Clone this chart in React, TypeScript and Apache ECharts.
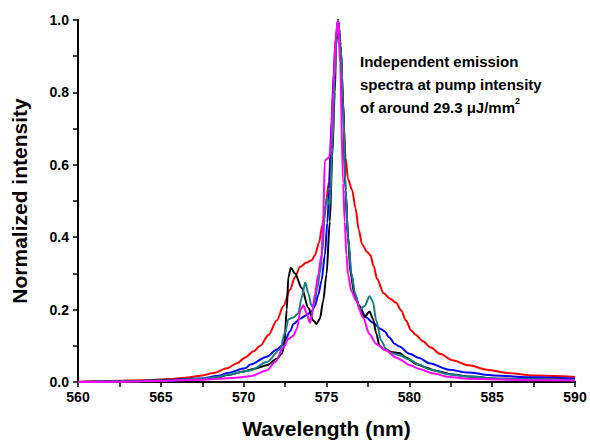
import React, { useEffect, useRef } from "react";
import * as echarts from "echarts";

// Wavelength (nm), normalized intensity pairs
const redSpectrum: [number, number][] = [
  [560, 0.001], [562, 0.003], [564, 0.005], [565.5, 0.008], [566.5, 0.012], [567.4, 0.017],
  [568.2, 0.025], [569, 0.038], [569.6, 0.052], [570.1, 0.068], [570.6, 0.085], [571, 0.1],
  [571.5, 0.13], [572, 0.17], [572.4, 0.21], [572.8, 0.255], [573.1, 0.29], [573.4, 0.318],
  [573.8, 0.33], [574.1, 0.336], [574.3, 0.35], [574.55, 0.385], [574.75, 0.434], [574.95, 0.489],
  [575.15, 0.553], [575.25, 0.64], [575.4, 0.8], [575.55, 0.95], [575.7, 1.0], [575.85, 0.9],
  [576.0, 0.75], [576.15, 0.62], [576.3, 0.56], [576.55, 0.53], [576.75, 0.48], [576.95, 0.42],
  [577.15, 0.38], [577.45, 0.36], [577.65, 0.35], [577.85, 0.32], [578.05, 0.285], [578.45, 0.245],
  [578.85, 0.23], [579.2, 0.219], [579.5, 0.198], [579.8, 0.17], [580.1, 0.143], [580.4, 0.13],
  [580.8, 0.113], [581.3, 0.095], [581.85, 0.078], [582.6, 0.06], [583.6, 0.046], [584.7, 0.034],
  [585.9, 0.025], [587.5, 0.018], [590, 0.014],
];

const blackSpectrum: [number, number][] = [
  [560, 0.0], [563, 0.002], [565, 0.004], [567.4, 0.008], [568.5, 0.013], [569, 0.019],
  [570.1, 0.03], [570.6, 0.036], [571.4, 0.046], [572, 0.064], [572.3, 0.078], [572.45, 0.1],
  [572.6, 0.2], [572.7, 0.29], [572.85, 0.315], [573.1, 0.3], [573.5, 0.26], [573.9, 0.205],
  [574.2, 0.17], [574.4, 0.16], [574.6, 0.175], [574.8, 0.224], [575.0, 0.297], [575.2, 0.443],
  [575.35, 0.625], [575.5, 0.8], [575.58, 0.93], [575.7, 1.0], [575.85, 0.93], [576.0, 0.78],
  [576.15, 0.53], [576.3, 0.4], [576.45, 0.3], [576.7, 0.24], [577.0, 0.21], [577.3, 0.18],
  [577.6, 0.195], [577.8, 0.175], [578.0, 0.135], [578.2, 0.1], [578.5, 0.09], [578.9, 0.083],
  [579.4, 0.08], [579.8, 0.068], [580.4, 0.05], [581.0, 0.04], [581.5, 0.032], [582.6, 0.021],
  [583.6, 0.015], [585.5, 0.009], [590, 0.005],
];

const blueSpectrum: [number, number][] = [
  [560, 0.0], [563, 0.002], [565, 0.005], [567.4, 0.01], [568.5, 0.017], [569, 0.025],
  [570.1, 0.038], [570.4, 0.048], [571.4, 0.07], [572, 0.09], [572.3, 0.1], [572.5, 0.115],
  [572.8, 0.14], [573.0, 0.16], [573.4, 0.175], [573.8, 0.185], [574.1, 0.195], [574.3, 0.21],
  [574.5, 0.24], [574.7, 0.28], [574.9, 0.35], [575.05, 0.44], [575.17, 0.534], [575.3, 0.72],
  [575.45, 0.86], [575.58, 0.95], [575.7, 1.0], [575.85, 0.93], [576.0, 0.78], [576.15, 0.53],
  [576.3, 0.4], [576.5, 0.3], [576.72, 0.242], [577.0, 0.205], [577.4, 0.178], [577.8, 0.164],
  [578.3, 0.146], [578.5, 0.14], [578.8, 0.123], [579.1, 0.106], [579.4, 0.098], [580.0, 0.078],
  [580.6, 0.066], [581.2, 0.052], [582.4, 0.034], [583.5, 0.026], [585.1, 0.018], [587.5, 0.013],
  [590, 0.009],
];

const tealSpectrum: [number, number][] = [
  [560, 0.0], [563, 0.002], [565, 0.004], [567.4, 0.009], [568.5, 0.014], [569, 0.02],
  [570.4, 0.032], [571.4, 0.055], [572.2, 0.09], [572.5, 0.137], [572.7, 0.173], [573.0, 0.178],
  [573.3, 0.19], [573.5, 0.233], [573.72, 0.275], [573.9, 0.245], [574.1, 0.21], [574.25, 0.215],
  [574.45, 0.26], [574.6, 0.3], [574.75, 0.36], [574.88, 0.45], [575.0, 0.51], [575.1, 0.5],
  [575.2, 0.487], [575.35, 0.65], [575.5, 0.84], [575.6, 0.95], [575.7, 1.0], [575.85, 0.93],
  [576.0, 0.78], [576.15, 0.53], [576.3, 0.4], [576.5, 0.3], [576.72, 0.245], [577.0, 0.2],
  [577.3, 0.21], [577.6, 0.237], [577.8, 0.222], [578.0, 0.17], [578.3, 0.114], [578.6, 0.091],
  [578.9, 0.08], [579.4, 0.074], [580.0, 0.062], [580.6, 0.048], [581.2, 0.035], [582.4, 0.021],
  [583.5, 0.015], [585.5, 0.009], [590, 0.005],
];

const magentaSpectrum: [number, number][] = [
  [560, 0.0], [563, 0.001], [565, 0.003], [567.4, 0.006], [568.5, 0.009], [569.5, 0.012],
  [570.4, 0.016], [571.4, 0.032], [571.9, 0.055], [572.4, 0.096], [572.7, 0.119], [573.0, 0.128],
  [573.2, 0.146], [573.45, 0.2], [573.6, 0.212], [573.8, 0.19], [574.0, 0.164], [574.1, 0.18],
  [574.3, 0.242], [574.5, 0.297], [574.7, 0.351], [574.8, 0.45], [574.9, 0.612], [575.17, 0.621],
  [575.27, 0.66], [575.4, 0.8], [575.55, 0.95], [575.7, 1.0], [575.82, 0.88], [576.0, 0.55],
  [576.1, 0.443], [576.2, 0.351], [576.3, 0.297], [576.5, 0.251], [576.8, 0.224], [577.2, 0.178],
  [577.6, 0.132], [578.0, 0.105], [578.6, 0.087], [579.2, 0.068], [579.4, 0.063], [580.0, 0.047],
  [580.6, 0.036], [581.4, 0.024], [582.4, 0.014], [583.5, 0.009], [587.5, 0.005], [590, 0.004],
];

const xRange = [560, 590];
const xInterval = 5;
const yRange = [0, 1.0];
const yInterval = 0.2;

const FONT = '"Liberation Sans", Arial, sans-serif';

export default function App() {
  const ref = useRef<HTMLDivElement>(null);
  useEffect(() => {
    const chart = echarts.init(ref.current!, null, { renderer: "svg" });
    const mk = (data: [number, number][], color: string) => ({
      type: "line",
      data,
      showSymbol: false,
      smooth: 0.3,
      smoothMonotone: "x",
      lineStyle: { color, width: 2 },
      itemStyle: { color },
      emphasis: { disabled: true },
    });
    chart.setOption({
      animation: false,
      backgroundColor: "#ffffff",
      grid: { left: 78, right: 15, top: 20, bottom: 59, containLabel: false },
      xAxis: {
        type: "value",
        min: xRange[0],
        max: xRange[1],
        interval: xInterval,
        name: "Wavelength (nm)",
        nameLocation: "middle",
        nameGap: 36,
        nameTextStyle: { fontFamily: FONT, fontWeight: "bold", fontSize: 21, color: "#000" },
        axisLine: { show: true, onZero: false, lineStyle: { color: "#000", width: 2 } },
        axisTick: { show: true, inside: false, length: 5, lineStyle: { color: "#000", width: 1.5 } },
        minorTick: { show: true, splitNumber: 2, length: 5, lineStyle: { color: "#000", width: 1.5 } },
        axisLabel: { fontFamily: FONT, fontWeight: "bold", fontSize: 14, color: "#000", margin: 8 },
        splitLine: { show: false },
      },
      yAxis: {
        type: "value",
        min: yRange[0],
        max: yRange[1],
        interval: yInterval,
        name: "Normalized intensity",
        nameLocation: "middle",
        nameGap: 48,
        nameTextStyle: { fontFamily: FONT, fontWeight: "bold", fontSize: 21, color: "#000" },
        axisLine: { show: true, onZero: false, lineStyle: { color: "#000", width: 2 } },
        axisTick: { show: true, inside: false, length: 5, lineStyle: { color: "#000", width: 1.5 } },
        minorTick: { show: true, splitNumber: 2, length: 5, lineStyle: { color: "#000", width: 1.5 } },
        axisLabel: {
          fontFamily: FONT, fontWeight: "bold", fontSize: 14, color: "#000", margin: 9,
          formatter: (v: number) => v.toFixed(1),
        },
        splitLine: { show: false },
      },
      graphic: [
        {
          type: "text",
          left: 360,
          top: 50,
          style: {
            text: "Independent emission\nspectra at pump intensity\nof around 29.3 μJ/mm{sup|2}",
            font: `bold 15px ${FONT}`,
            fill: "#000",
            lineHeight: 23,
            rich: {
              sup: { fontSize: 9, fontWeight: "bold", fontFamily: FONT, verticalAlign: "top", fill: "#000", lineHeight: 23 },
            },
          },
        },
      ],
      series: [
        mk(redSpectrum, "#ff0000"),
        mk(blueSpectrum, "#0000ff"),
        mk(blackSpectrum, "#000000"),
        mk(tealSpectrum, "#168080"),
        mk(magentaSpectrum, "#ff00ff"),
      ],
    });
    return () => chart.dispose();
  }, []);
  return <div ref={ref} style={{ position: "fixed", left: 0, top: 0, width: 590, height: 444 }} />;
}
